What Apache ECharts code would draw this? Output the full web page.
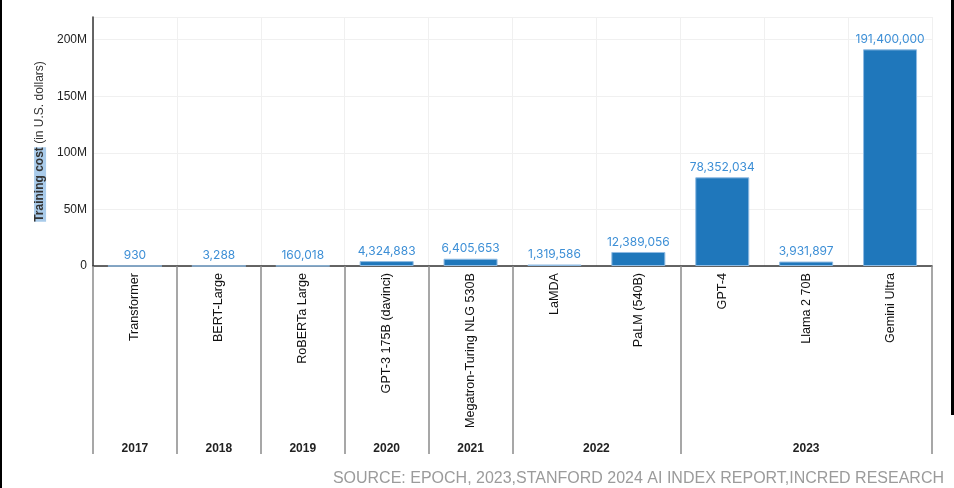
<!DOCTYPE html>
<html>
<head>
<meta charset="utf-8">
<script src="https://cdn.jsdelivr.net/npm/echarts@6/dist/echarts.min.js"></script>
<style>html,body{margin:0;padding:0;background:#fff;}#c{width:954px;height:488px;}</style>
</head>
<body>
<div id="c"></div>
<script>
var models = ['Transformer','BERT-Large','RoBERTa Large','GPT-3 175B (davinci)','Megatron-Turing NLG 530B','LaMDA','PaLM (540B)','GPT-4','Llama 2 70B','Gemini Ultra'];
var costs = [930, 3288, 160018, 4324883, 6405653, 1319586, 12389056, 78352034, 3931897, 191400000];
var modelYears = ['2017','2018','2019','2020','2021','2022','2022','2023','2023','2023'];
var yTicks = [0, 50e6, 100e6, 150e6, 200e6];
var yTickLabels = ['0','50M','100M','150M','200M'];

// year groups derived from modelYears
var yearGroups = [];
modelYears.forEach(function (y, i) {
  var g = yearGroups[yearGroups.length - 1];
  if (g && g.year === y) { g.count++; } else { yearGroups.push({year: y, start: i, count: 1}); }
});

var chart = echarts.init(document.getElementById('c'), null, {renderer: 'canvas'});
var font = '"Liberation Sans", Arial, sans-serif';
chart.setOption({
  animation: false,
  backgroundColor: '#fff',
  grid: {left: 93, right: 22, top: 17, bottom: 222, outerBoundsMode: 'none', containLabel: false},
  xAxis: [{
    type: 'category',
    data: models,
    position: 'bottom',
    axisLine: {show: true, lineStyle: {color: '#333', width: 1.5}},
    axisTick: {
      show: true, length: 188,
      lineStyle: {color: '#8a8a8a', width: 1.5},
      interval: function (i) { return i === 0 || modelYears[i] !== modelYears[i - 1]; }
    },
    axisLabel: {rotate: 90, interval: 0, margin: 7, fontSize: 12.6, color: '#111', fontFamily: font},
    splitLine: {show: true, interval: 0, lineStyle: {color: '#f0f0f0', width: 1}}
  }, {
    type: 'value',
    min: 0, max: models.length, interval: 0.5,
    position: 'bottom',
    offset: 169,
    axisLine: {show: false}, axisTick: {show: false}, splitLine: {show: false},
    axisLabel: {
      fontSize: 12, fontWeight: 'bold', color: '#222', fontFamily: font, margin: 8,
      showMinLabel: true, showMaxLabel: true,
      formatter: function (v) {
        for (var k = 0; k < yearGroups.length; k++) {
          var g = yearGroups[k];
          if (Math.abs(g.start + g.count / 2 - v) < 1e-6) return g.year;
        }
        return '';
      }
    }
  }],
  yAxis: {
    type: 'value', min: 0, max: 220e6, interval: 50e6,
    name: '{h|Training cost} (in U.S. dollars)',
    nameLocation: 'middle', nameGap: 46, nameRotate: 90,
    nameTextStyle: {fontSize: 12, color: '#333', fontFamily: font,
      rich: {h: {fontSize: 12, color: '#333', fontWeight: 'bold', fontFamily: font, backgroundColor: '#a9cbea'}}},
    axisLine: {show: true, lineStyle: {color: '#333', width: 1.5}},
    axisTick: {show: false},
    axisLabel: {fontSize: 12, color: '#222', fontFamily: font, margin: 6,
      formatter: function (v) { var i = yTicks.indexOf(v); return i >= 0 ? yTickLabels[i] : ''; }},
    splitLine: {show: true, lineStyle: {color: '#f0f0f0', width: 1}}
  },
  series: [{
    type: 'bar',
    xAxisIndex: 0,
    data: costs,
    barWidth: 54,
    itemStyle: {color: '#1f77bb', borderColor: '#8fbbe3', borderWidth: 1},
    label: {
      show: true, position: 'top', distance: 4,
      fontSize: 12, color: '#3d8fd6', fontFamily: 'Inter, "Noto Sans", sans-serif',
      formatter: function (p) { return p.value.toLocaleString('en-US'); }
    }
  }],
  graphic: [
    {type: 'rect', left: 0, top: 0, shape: {width: 2, height: 488}, style: {fill: '#000'}},
    {type: 'rect', left: 951, top: 0, shape: {width: 3, height: 415}, style: {fill: '#000'}},
    {type: 'text', right: 10, top: 471,
      style: {text: 'SOURCE: EPOCH, 2023,STANFORD 2024 AI INDEX REPORT,INCRED RESEARCH',
        font: '16px "Liberation Sans", Arial, sans-serif', fill: '#9b9b9b'}}
  ]
});
</script>
</body>
</html>
